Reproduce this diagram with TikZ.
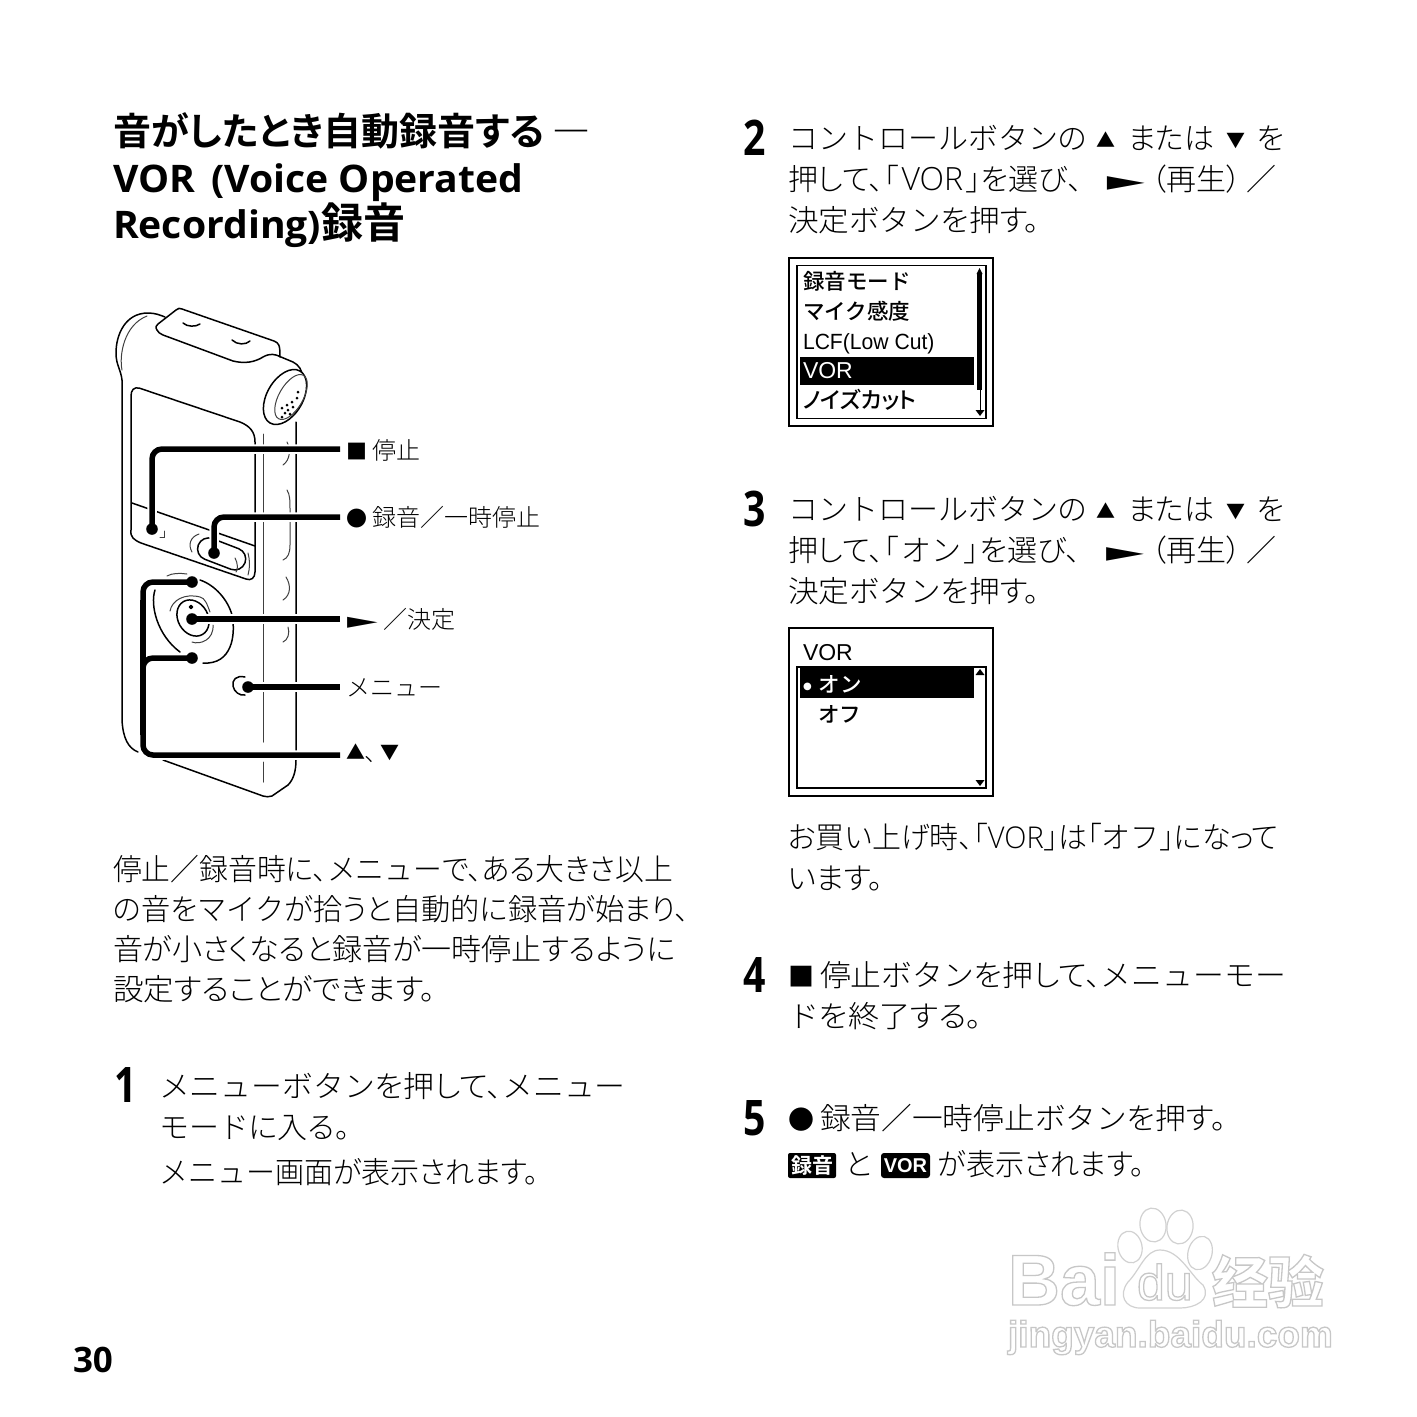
\documentclass[tikz,border=0pt]{standalone}
\usepackage{fontspec}
\setmainfont{Noto Sans CJK JP Light}[BoldFont={Noto Sans CJK JP Bold},RawFeature={+palt}]
\newfontfamily\kk{Noto Sans CJK JP Light}[BoldFont={Noto Sans CJK JP Bold}]
\newfontfamily\scrfont{Noto Sans CJK JP Medium}
\newfontfamily\scrpalt{Noto Sans CJK JP Medium}[RawFeature={+palt}]
\newcommand{\K}[1]{{\kk #1}}
\newcommand{\X}[2]{\scalebox{#1}[1]{#2}}
\newcommand{\jpb}{\bfseries}
\newfontfamily\latb{Open Sans}
\newfontfamily\lat{Open Sans Light}
\newfontfamily\hel{Liberation Sans}
\newcommand{\helb}{\hel\bfseries}
\newfontfamily\sy{DejaVu Sans}
\newfontfamily\scfont{Noto Sans CJK SC}
\newcommand{\sz}[1]{\fontsize{#1}{#1}\selectfont}
\newcommand{\tri}{{\sy\sz{26}\scalebox{1.9}[1.05]{►}}}
\newcommand{\trismall}{{\sy\sz{21}\scalebox{1.9}[1.05]{►}}}
\newcommand{\up}{{\sz{19}\raisebox{2pt}{▲}}}
\newcommand{\dn}{{\sz{19}\raisebox{2pt}{▼}}}
\newcommand{\sqb}{{\sz{26}■}}
\newcommand{\cib}{{\sz{26}●}}
\newcommand{\sqs}{{\sz{21}■}}
\newcommand{\cis}{{\sz{21}●}}
\newcommand{\outl}[1]{\special{pdf:code 1 Tr 1.3 w}#1\special{pdf:code 0 Tr}}
\tikzset{
 txt/.style={anchor=base west,inner sep=0pt,outer sep=0pt},
 bodytxt/.style={txt,font=\sz{30},xshift=-1pt,yshift=-1pt},
 headtxt/.style={txt,font=\sz{38}\jpb,xshift=-1pt},
 labeltxt/.style={txt,font=\sz{24}},
 steptxt/.style={txt,font=\sz{49}\latb\bfseries},
 scrtxt/.style={txt,font=\sz{21.5}\scrfont},
 lead/.style={line width=5.5pt,rounded corners=10pt,preaction={draw=white,line width=9.5pt}},
 leadplain/.style={line width=5.5pt,rounded corners=10pt},
 leadanchor/.style={circle,inner sep=0pt,minimum size=11pt},
 dev/.style={line width=1.5pt,line cap=round,line join=round},
 devthin/.style={line width=1pt,line cap=round,draw=black!75},
 wm/.style={draw=black!18,line width=1.2pt,fill=white},
 wmtxt/.style={txt,text=black!22},
}
\begin{document}
\begin{tikzpicture}[x=1pt,y=-1pt]
\useasboundingbox (0,0) rectangle (1417,1417);
\fill[white] (0,0) rectangle (1417,1417);

% heading
\node[headtxt] (h1) at (114,145) {音がしたとき自動録音する\hspace{8pt}―};
\node[headtxt] (h2) at (114,192) {\X{1.03}{\latb\bfseries\sz{38}VOR\hspace{6pt} (Voice Operated}};
\node[headtxt] (h3) at (114,238) {\X{1.03}{\latb\bfseries\sz{38}Recording)}{\sz{42}録音}};

% device
\draw[dev] (122,380) .. controls (121,370) and (116,365) .. (116,353) .. controls (116,335) and (125,313) .. (148,313) .. controls (155,313) and (160,315) .. (165,317);
\draw[devthin] (122,370) .. controls (119,355) and (124,325) .. (147,316);
\draw[dev] (122,380) -- (122,720) .. controls (123,738) and (128,748) .. (138,752);
\draw[dev] (157,330) .. controls (155,327) and (156,326) .. (158,324) -- (176,310) .. controls (178,308) and (180,308) .. (182,309) -- (274,341) .. controls (279,343) and (280,345) .. (280,357);
\draw[dev] (157,330) .. controls (158,333) and (160,333) .. (163,335) -- (233,361) .. controls (245,364) and (255,362) .. (263,357) .. controls (270,353) and (275,354) .. (281,357) -- (293,362) .. controls (299,365) and (302,370) .. (303,378);
\draw[dev] (183,323) .. controls (187,327) and (196,327) .. (200,324);
\draw[dev] (232,340) .. controls (237,345) and (246,345) .. (250,341);
% microphone end
\draw[dev,fill=white,rotate around={-30:(285,397)}] (285,397) ellipse (18pt and 30pt);
\draw[devthin,rotate around={-30:(291,397)}] (291,397) ellipse (12pt and 25pt);
\foreach \p in {(298,392),(297,398),(292,402),(287,405),(282,408),(293,407),(288,410),(285,413),(282,417),(290,414)}
  \fill \p circle (1.5pt);
% body right side
\draw[dev] (296,422) -- (296,760) .. controls (296,772) and (293,780) .. (288,785) -- (272,796) .. controls (269,797) and (266,797) .. (263,796) -- (163,760);
\draw[devthin] (263,434) -- (263,742);
\draw[devthin] (263,762) -- (263,782);
\draw[devthin] (287,442) .. controls (291,450) and (290,460) .. (283,465);
\draw[devthin] (287,490) .. controls (290,495) and (290,500) .. (290,510) -- (290,545) .. controls (290,553) and (288,558) .. (283,560);
\draw[devthin] (286,577) .. controls (291,585) and (291,595) .. (283,600);
\draw[devthin] (288,627) .. controls (290,633) and (288,640) .. (283,642);
% display
\draw[dev] (131,530) -- (131,396) .. controls (131,390) and (134,387) .. (139,388) -- (240,422) .. controls (250,426) and (255,432) .. (255,442) -- (255,572) .. controls (255,578) and (251,581) .. (246,579) -- (141,543) .. controls (134,540) and (130,537) .. (131,530);
\draw[dev] (132,503) -- (255,546);
\draw[devthin] (160,537) -- (164,537) -- (164,531);
\draw[devthin] (248,553) .. controls (250,560) and (250,568) .. (248,575);
% record button
\draw[dev,rounded corners=11pt,rotate around={-21:(222,553)}] (197,543) rectangle (247,565);
\draw[devthin] (199,534) .. controls (190,537) and (188,545) .. (192,552);
\draw[devthin] (236,572) .. controls (238,570) and (238,563) .. (235,558);
% dial
\draw[dev] (155,590) .. controls (150,605) and (157,635) .. (180,652);
\draw[dev] (200,580) .. controls (215,585) and (228,600) .. (232,615) .. controls (236,635) and (232,665) .. (203,663);
\draw[devthin] (167,576) .. controls (172,573) and (180,573) .. (187,574);
\draw[dev,rotate around={30:(193,618)}] (193,618) ellipse (15pt and 19pt);
\draw[devthin] (170,611) .. controls (172,600) and (185,593) .. (200,597) .. controls (205,598) and (207,604) .. (210,612);
\draw[devthin] (213,625) .. controls (214,640) and (200,645) .. (192,642);
\draw[dev] (191,607) circle (1.5pt);
% menu button
\draw[dev] (245,677) .. controls (236,675) and (232,680) .. (233,686) .. controls (234,692) and (240,696) .. (245,695);

% connectors
\node[leadanchor] (dstop) at (152,529) {};
\node[leadanchor] (drec) at (214,553) {};
\node[leadanchor] (dup) at (192,582) {};
\node[leadanchor] (ddown) at (192,658) {};
\node[leadanchor] (dplay) at (192,619) {};
\node[leadanchor] (dmenu) at (248,687) {};
\coordinate (estop) at (340,449);
\coordinate (erec) at (340,517);
\coordinate (eplay) at (340,619);
\coordinate (emenu) at (340,687);
\coordinate (earrow) at (340,755);
\coordinate (cup) at (143,582);
\coordinate (cbot) at (143,755);
\coordinate (cdown) at (143,658);
\coordinate (cjoin) at (143,680);
\coordinate (v1) at (143,600);
\coordinate (v2) at (143,735);
\draw[lead] (dstop.center) |- (estop);
\draw[lead] (drec.center) |- (erec);
\draw[lead] (dplay.center) -- (eplay);
\draw[lead] (dmenu.center) -- (emenu);
\draw[lead] (dup.center) -- (cup) -- (cbot) -- (earrow);
\draw[lead] (ddown.center) -- (cdown) -- (cjoin);
\draw[leadplain] (v1) -- (v2);
\foreach \d in {dstop,drec,dup,ddown,dplay,dmenu}
  \fill (\d) circle (5.8pt);

% labels
\node[labeltxt] (lstop) at (346,459) {\sqs\hspace{5pt}停止};
\node[labeltxt] (lrec) at (346,526) {\cis\hspace{5pt}録音／一時停止};
\node[labeltxt] (lplay) at (347,628) {\trismall\hspace{6pt}／決定};
\node[labeltxt] (lmenu) at (346,696) {\K{メニュー}};
\node[labeltxt] (larrow) at (346,761) {\up{}、\hspace{3pt}\dn};

% left paragraph
\node[bodytxt] (p1) at (114,879) {\X{.96}{停止／録音時に、\K{メニュー}で、ある大きさ以上}};
\node[bodytxt] (p2) at (114,919) {\X{.974}{の音を\K{マイク}が拾うと自動的に録音が始まり、}};
\node[bodytxt] (p3) at (114,959) {音が小さくなると録音が一時停止するように};
\node[bodytxt] (p4) at (114,999) {\X{1.02}{設定することができます。}};

% step 1
\node[steptxt] (s1) at (114,1102) {\scalebox{.8}[1]{1}};
\node[bodytxt] (s1a) at (160,1096) {\X{1.03}{\K{メニューボタン}を押して、\K{メニュー}}};
\node[bodytxt] (s1b) at (160,1137) {\K{モード}に入る。};
\node[bodytxt] (s1c) at (160,1182) {\X{.967}{\K{メニュー}画面が表示されます。}};

% step 2
\node[steptxt] (s2) at (743,155) {\scalebox{.8}[1]{2}};
\node[bodytxt] (s2a) at (789,148) {\K{コントロールボタン}の\hspace{10pt}\up\hspace{12pt}または\hspace{12pt}\dn\hspace{12pt}を};
\node[bodytxt] (s2b) at (789,189) {押して、「\hspace{3pt}{\lat\sz{32}VOR}\hspace{3pt}」を選び、\hspace{24pt}\tri\hspace{7pt}（再生）\hspace{5pt}／};
\node[bodytxt] (s2c) at (789,230) {\X{1.02}{決定\K{ボタン}を押す。}};

% screen 1
\node[draw,line width=2pt,minimum width=204pt,minimum height=168pt,inner sep=0pt] (scra) at (890.5,342) {};
\node[draw,line width=1.5pt,minimum width=189pt,minimum height=153pt,inner sep=0pt] (scrb) at (891.5,342) {};
\fill (800,357) rectangle (974,385);
\fill (977,274) rectangle (982,390);
\draw[line width=1pt] (980,390) -- (980,410);
\fill (976.5,274) -- (979.5,268) -- (982.5,274) -- cycle;
\fill (975.5,410) -- (980,416) -- (984.5,410) -- cycle;
\node[scrtxt] (m1) at (803,289) {録音モード};
\node[scrtxt] (m2) at (803,319) {マイク感度};
\node[scrtxt,font=\sz{22}\hel] (m3) at (803,349) {\X{.96}{LCF(Low Cut)}};
\node[scrtxt,font=\sz{23}\hel,text=white] (m4) at (803,378) {VOR};
\node[scrtxt,font=\sz{22.5}\scrpalt] (m5) at (803,408) {ノイズカット};

% step 3
\node[steptxt] (s3) at (743,526) {\scalebox{.8}[1]{3}};
\node[bodytxt] (s3a) at (789,519) {\K{コントロールボタン}の\hspace{10pt}\up\hspace{12pt}または\hspace{12pt}\dn\hspace{12pt}を};
\node[bodytxt] (s3b) at (789,560) {押して、「\hspace{3pt}\K{オン}\hspace{3pt}」を選び、\hspace{25pt}\tri\hspace{7pt}（再生）\hspace{5pt}／};
\node[bodytxt] (s3c) at (789,601) {\X{1.02}{決定\K{ボタン}を押す。}};

% screen 2
\node[draw,line width=2pt,minimum width=204pt,minimum height=168pt,inner sep=0pt] (scrc) at (890.5,712) {};
\node[draw,line width=1.5pt,minimum width=189pt,minimum height=121pt,inner sep=0pt] (scrd) at (891.5,727.5) {};
\fill (800,667) rectangle (974,698);
\fill (975.5,675) -- (980,669) -- (984.5,675) -- cycle;
\fill (975.5,780) -- (980,786) -- (984.5,780) -- cycle;
\node[scrtxt,font=\sz{23}\hel] (n1) at (803,660) {VOR};
\node[scrtxt,text=white] (n2) at (803,692) {\raisebox{3pt}{{\sy\sz{10}●}}\hspace{7pt}オン};
\node[scrtxt] (n3) at (818,722) {オフ};

% note
\node[bodytxt] (t1) at (789,847) {\X{.966}{お買い上げ時、「{\lat VOR}」は「\K{オフ}」になって}};
\node[bodytxt] (t2) at (789,888) {います。};

% step 4
\node[steptxt] (s4) at (743,992) {\scalebox{.8}[1]{4}};
\node[bodytxt] (s4a) at (789,985) {\sqb\hspace{6pt}\X{1.028}{停止\K{ボタン}を押して、\K{メニューモー}}};
\node[bodytxt] (s4b) at (789,1026) {\X{1.04}{\K{ド}を終了する。}};

% step 5
\node[steptxt] (s5) at (743,1135) {\scalebox{.8}[1]{5}};
\node[bodytxt] (s5a) at (789,1128) {\cib\hspace{6pt}\X{1.024}{録音／一時停止\K{ボタン}を押す。}};
\node[fill=black,rounded corners=2pt,minimum width=48pt,minimum height=25pt,inner sep=0pt,text=white,font=\sz{21}\jpb] (i1) at (812,1165.5) {録音};
\node[bodytxt] (s5b) at (846,1174) {と};
\node[fill=black,rounded corners=3pt,minimum width=49pt,minimum height=25pt,inner sep=0pt,text=white,font=\sz{20}\helb] (i2) at (905.5,1165.5) {VOR};
\node[bodytxt] (s5c) at (939,1174) {\X{.97}{が表示されます。}};

% page number
\node[txt,font=\sz{35}\latb\bfseries] (pg) at (73,1372) {30};

% watermark
\node[wmtxt,font=\sz{72}\helb] (wa) at (1008,1305) {\outl{Bai}};
\draw[wm,rotate around={8:(1153,1225)}] (1153,1225) ellipse (13pt and 17pt);
\draw[wm,rotate around={-8:(1180,1227)}] (1180,1227) ellipse (13pt and 17pt);
\draw[wm,rotate around={12:(1130,1247)}] (1130,1247) ellipse (12pt and 16pt);
\draw[wm,rotate around={-15:(1200,1253)}] (1200,1253) ellipse (12pt and 17pt);
\draw[wm] (1160,1250) .. controls (1180,1250) and (1190,1275) .. (1203,1285) .. controls (1212,1300) and (1195,1308) .. (1180,1308) -- (1140,1308) .. controls (1125,1308) and (1118,1295) .. (1128,1282) .. controls (1140,1270) and (1145,1250) .. (1160,1250) -- cycle;
\node[wmtxt,font=\sz{50}\hel] (wb) at (1137,1300) {\outl{du}};
\node[wmtxt,font=\sz{56}\scfont\bfseries] (wc) at (1212,1303) {\outl{经验}};
\node[wmtxt,font=\sz{37}\helb] (wd) at (1008,1347) {\outl{jingyan.baidu.com}};
\end{tikzpicture}
\end{document}
